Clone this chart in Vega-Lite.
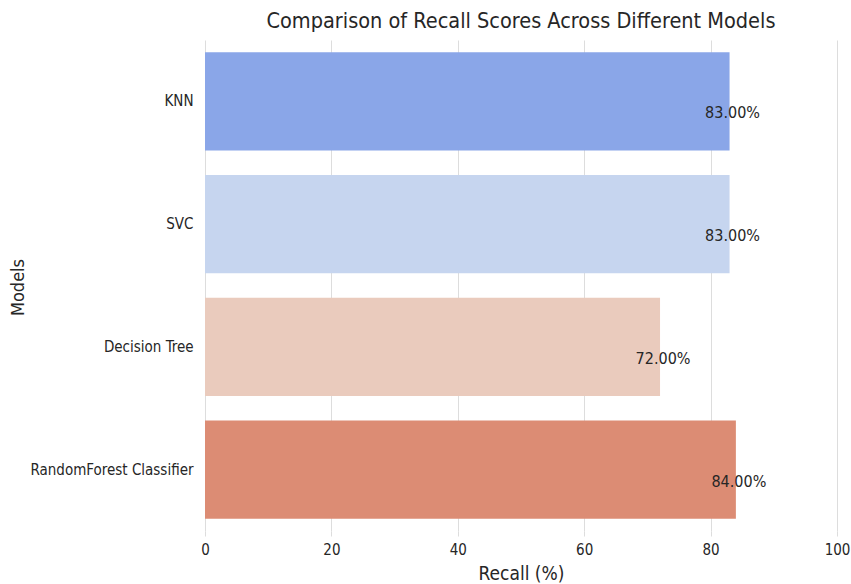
{
  "$schema": "https://vega.github.io/schema/vega-lite/v6.json",
  "width": 632,
  "height": 491,
  "autosize": "none",
  "padding": {"left": 205, "top": 40, "right": 14, "bottom": 53},
  "background": "white",
  "config": {
    "view": {"stroke": null},
    "font": "DejaVu Sans Condensed, Liberation Sans Narrow, sans-serif"
  },
  "title": {
    "text": "Comparison of Recall Scores Across Different Models",
    "fontSize": 21.5,
    "fontWeight": "normal",
    "color": "#262626",
    "anchor": "middle",
    "offset": 8,
    "font": "DejaVu Sans Condensed, Liberation Sans Narrow, sans-serif"
  },
  "data": {
    "values": [
      {"Model": "KNN", "Recall": 83},
      {"Model": "SVC", "Recall": 83},
      {"Model": "Decision Tree", "Recall": 72},
      {"Model": "RandomForest Classifier", "Recall": 84}
    ]
  },
  "transform": [{"calculate": "format(datum.Recall, '.2f') + '%'", "as": "label"}],
  "encoding": {
    "y": {
      "field": "Model",
      "type": "nominal",
      "sort": null,
      "scale": {"paddingInner": 0.2, "paddingOuter": 0.1},
      "axis": {
        "title": "Models",
        "titleFontSize": 18,
        "titleFontWeight": "normal",
        "titleColor": "#262626",
        "titleX": -187,
        "titleY": 247,
        "titleAngle": -90,
        "titleAlign": "center",
        "titleBaseline": "middle",
        "labelFontSize": 15,
        "labelColor": "#262626",
        "labelPadding": 12,
        "domain": false,
        "ticks": false,
        "grid": false
      }
    }
  },
  "layer": [
    {
      "mark": {"type": "bar"},
      "encoding": {
        "x": {
          "field": "Recall",
          "type": "quantitative",
          "scale": {"domain": [0, 100]},
          "axis": {
            "title": "Recall (%)",
            "titleFontSize": 19,
            "titleFontWeight": "normal",
            "titleColor": "#262626",
            "titlePadding": 7,
            "labelFontSize": 15,
            "labelColor": "#262626",
            "labelPadding": 6,
            "labelFlush": false,
            "values": [0, 20, 40, 60, 80, 100],
            "domain": false,
            "ticks": true,
            "tickColor": "#dddddd",
            "tickSize": 5,
            "grid": true,
            "gridColor": "#dddddd",
            "gridWidth": 1
          }
        },
        "color": {
          "field": "Model",
          "type": "nominal",
          "legend": null,
          "scale": {
            "domain": ["KNN", "SVC", "Decision Tree", "RandomForest Classifier"],
            "range": ["#8aa6e8", "#c6d5ef", "#eacbbd", "#dc8c74"]
          }
        }
      }
    },
    {
      "mark": {"type": "text", "fontSize": 16, "color": "#262626", "align": "center", "baseline": "middle", "dx": 3, "dy": 12},
      "encoding": {
        "x": {"field": "Recall", "type": "quantitative"},
        "text": {"field": "label", "type": "nominal"}
      }
    }
  ]
}
